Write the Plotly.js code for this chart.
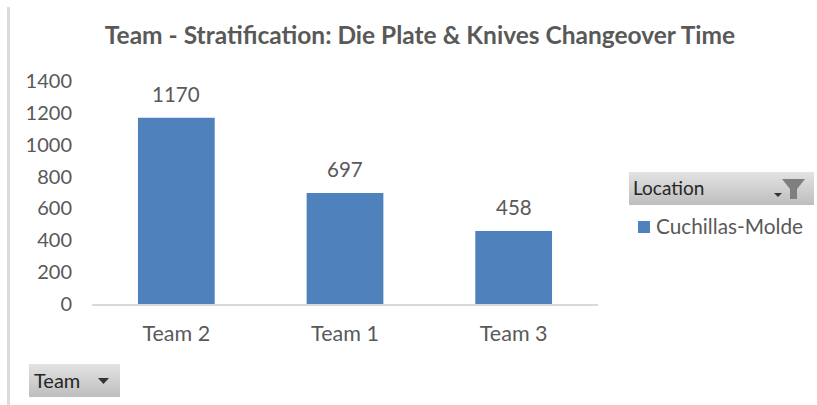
<!DOCTYPE html>
<html><head><meta charset="utf-8">
<script src="https://cdn.plot.ly/plotly-3.0.1.min.js"></script>
<style>html,body{margin:0;padding:0;background:#fff}</style></head>
<body><div id="c" style="width:817px;height:405px"></div>
<script>
const categories = ["Team 2","Team 1","Team 3"];
const values = [1170,697,458];
const seriesName = "Cuchillas-Molde";
const titleText = "Team - Stratification: Die Plate & Knives Changeover Time";
const W=817,H=405;
const FONT='Lato, Carlito, "Open Sans", sans-serif';
const px=x=>x/W, py=y=>1-y/H;
function lerp(a,b,t){return Math.round(a+(b-a)*t);}
function button(x0,y0,x1,y1){
  const out=[];const n=y1-y0;
  for(let i=0;i<n;i++){const t=i/(n-1);const v=lerp(226,190,t);
    out.push({type:'rect',xref:'paper',yref:'paper',x0:px(x0),x1:px(x1),y0:py(y0+i),y1:py(y0+i+1),
      fillcolor:`rgb(${v},${v},${v})`,line:{width:0},layer:'below'});}
  return out;
}
function path(pts,color){
  const d=pts.map((p,i)=>(i?'L':'M')+px(p[0])+','+py(p[1])).join(' ')+' Z';
  return {type:'path',xref:'paper',yref:'paper',path:d,fillcolor:color,line:{width:0}};
}
const shapes=[
  {type:'rect',xref:'paper',yref:'paper',x0:px(7),x1:px(10),y0:py(7),y1:0,fillcolor:'#dcdcdc',line:{width:0},layer:'below'},
  ...button(629,172,814,205),
  ...button(29,364,120,397),
  path([[782,179],[805,179],[797,189],[797,199],[790,199],[790,189]],'#7f7f7f'),
  path([[774,193],[782,193],[778,197]],'#333333'),
  path([[98,378],[109,378],[103.5,384]],'#333333'),
  path([[638,221],[650,221],[650,233],[638,233]],'#4f81bd')
];
const ann=(t,x,y,size,color)=>({text:t,xref:'paper',yref:'paper',x:px(x),y:py(y),xanchor:'left',yanchor:'middle',showarrow:false,
  font:{family:FONT,size:size,color:color}});
const labels=categories.map((c,i)=>({text:String(values[i]),x:c,y:values[i],xref:'x',yref:'y',showarrow:false,
  xanchor:'center',yanchor:'middle',yshift:24,font:{family:FONT,size:20.5,color:'#595959'}}));
Plotly.newPlot('c',[{
  type:'bar',x:categories,y:values,name:seriesName,width:0.455,
  marker:{color:'#4f81bd'},showlegend:false
}],{
  width:W,height:H,margin:{l:0,r:0,t:0,b:0},paper_bgcolor:'#fff',plot_bgcolor:'#fff',
  title:{text:titleText,font:{family:FONT,size:24.5,color:'#595959',weight:'bold'},x:px(420),xanchor:'center',y:py(35),yanchor:'middle'},
  xaxis:{domain:[px(92),px(598)],type:'category',showline:true,linecolor:'#d9d9d9',linewidth:2,ticks:'',
    tickfont:{family:FONT,size:21.5,color:'#595959'},fixedrange:true,ticklabelstandoff:9},
  yaxis:{domain:[py(304),py(81)],range:[0,1400],dtick:200,showgrid:false,zeroline:false,showline:false,ticks:'',
    tickfont:{family:FONT,size:20,color:'#595959'},ticklabelstandoff:19,fixedrange:true},
  showlegend:false,
  shapes,
  annotations:[...labels,ann('Location',631,188,19,'#262626'),ann('Team',32,380,20,'#262626'),ann(seriesName,654,225.5,20.8,'#595959')]
},{displayModeBar:false,staticPlot:true});
</script></body></html>
